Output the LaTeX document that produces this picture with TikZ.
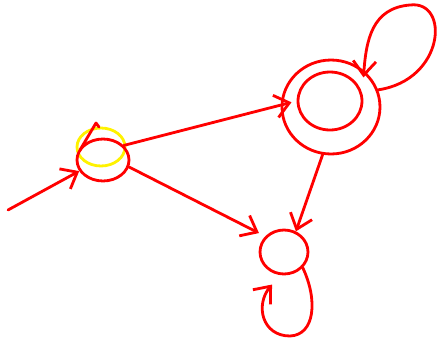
\documentclass[tikz,border=0pt]{standalone}
\usepackage{tikz}
\usetikzlibrary{shapes.geometric, arrows.meta, positioning, calc}
\tikzset{
    state_red/.style={
        ellipse, draw=red, line width=1.6pt, inner sep=0pt
    },
    state_yellow/.style={
        ellipse, draw=yellow, line width=1.6pt, inner sep=0pt
    },
    sketch_arrow/.style={
        -{Straight Barb[length=8pt, width=13pt, line width=1.6pt]}, draw=red, line width=1.6pt,
        line cap=round, line join=round
    },
    sketch_line/.style={
        draw=red, line width=1.6pt, line cap=round, line join=round
    }
}
\begin{document}
\begin{tikzpicture}[x=0.02cm, y=-0.02cm]

    \useasboundingbox (0,0) rectangle (437,339);

    % start state (yellow mark drawn first)
    \node[state_yellow, minimum width=0.96cm, minimum height=0.76cm] (q0y) at (101,147) {};
    \node[state_red, minimum width=1.04cm, minimum height=0.84cm] (q0) at (103,160) {};
    \draw[sketch_line] (80,150) -- (96,123) -- (99,127);

    % accepting state
    \node[state_red, minimum width=1.96cm, minimum height=1.88cm] (q1) at (331,107) {};
    \node[state_red, minimum width=1.28cm, minimum height=1.16cm] (q1in) at (330,101) {};

    % third state
    \node[state_red, minimum width=0.96cm, minimum height=0.88cm] (q2) at (284,252) {};

    % initial arrow
    \coordinate (init) at (8,210);
    \draw[sketch_arrow] (init) -- (q0.205);

    % transitions
    \draw[sketch_arrow, shorten >=3pt] (q0.35) -- (q1in.west);
    \draw[sketch_arrow, shorten >=4pt] (q0.-15) -- (q2.140);
    \draw[sketch_arrow] (q1.-100) -- (q2.60);

    % self loops
    \draw[sketch_arrow, shorten >=-4pt] (q1.20) .. controls (445,80) and (450,0) .. (410,5)
        .. controls (372,8) and (366,40) .. (q1.48);
    \draw[sketch_arrow, shorten >=7pt] (q2.-40) .. controls (318,300) and (315,335) .. (290,336)
        .. controls (262,336) and (255,305) .. (q2.-100);

\end{tikzpicture}
\end{document}
